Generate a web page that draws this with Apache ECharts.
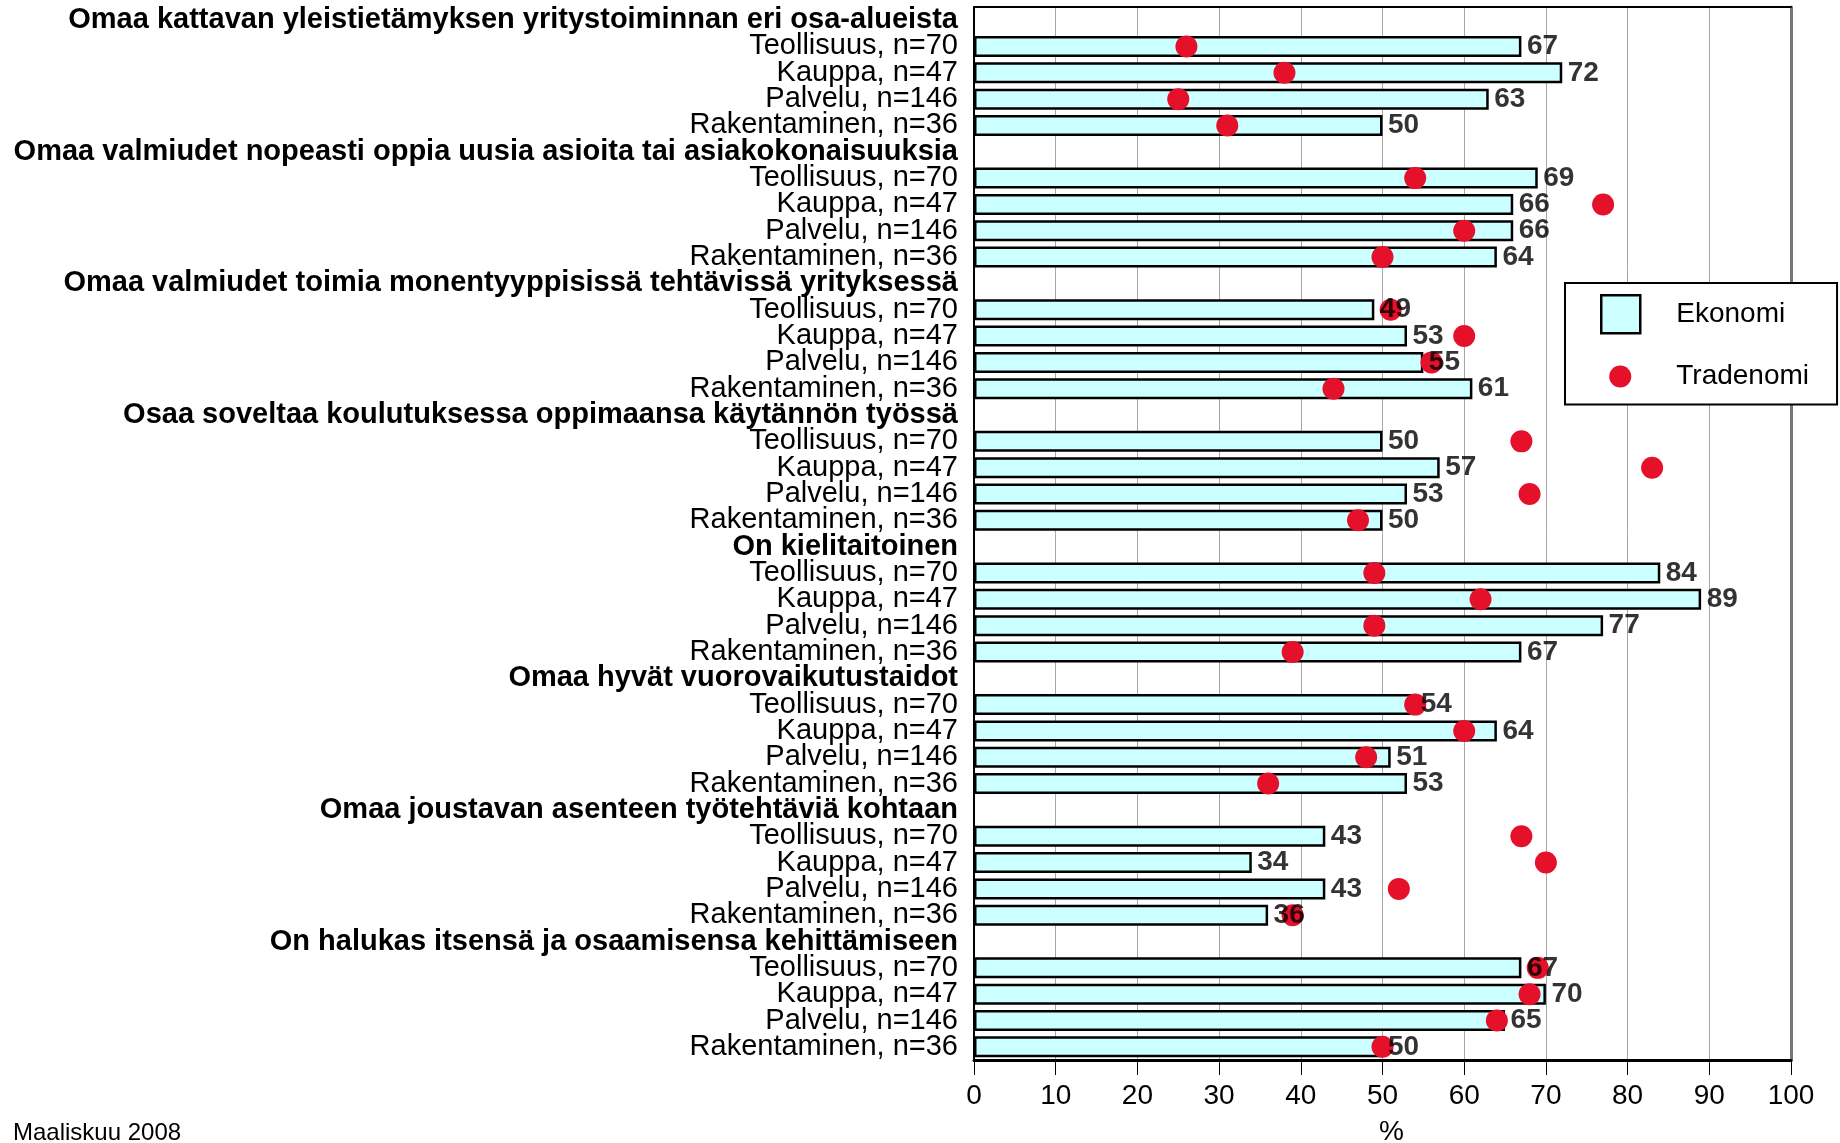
<!DOCTYPE html>
<html>
<head>
<meta charset="utf-8">
<script src="https://cdn.jsdelivr.net/npm/echarts@6/dist/echarts.min.js"></script>
<style>
html,body{margin:0;padding:0;background:#fff;}
#chart{width:1840px;height:1143px;}
</style>
</head>
<body>
<div id="chart"></div>
<script>
const groupTitles = [
  'Omaa kattavan yleistietämyksen yritystoiminnan eri osa-alueista',
  'Omaa valmiudet nopeasti oppia uusia asioita tai asiakokonaisuuksia',
  'Omaa valmiudet toimia monentyyppisissä tehtävissä yrityksessä',
  'Osaa soveltaa koulutuksessa oppimaansa käytännön työssä',
  'On kielitaitoinen',
  'Omaa hyvät vuorovaikutustaidot',
  'Omaa joustavan asenteen työtehtäviä kohtaan',
  'On halukas itsensä ja osaamisensa kehittämiseen'
];
const sectors = ['Teollisuus, n=70', 'Kauppa, n=47', 'Palvelu, n=146', 'Rakentaminen, n=36'];
const ekonomi = [
  [67, 72, 63, 50],
  [69, 66, 66, 64],
  [49, 53, 55, 61],
  [50, 57, 53, 50],
  [84, 89, 77, 67],
  [54, 64, 51, 53],
  [43, 34, 43, 36],
  [67, 70, 65, 50]
];
const tradenomi = [
  [26, 38, 25, 31],
  [54, 77, 60, 50],
  [51, 60, 56, 44],
  [67, 83, 68, 47],
  [49, 62, 49, 39],
  [54, 60, 48, 36],
  [67, 70, 52, 39],
  [69, 68, 64, 50]
];
const xTicks = { min: 0, max: 100, step: 10 };
const footnote = 'Maaliskuu 2008';
const axisName = '%';

const FONT = '"Liberation Sans", Arial, sans-serif';
const RED = '#E5102A';

const rows = [];
groupTitles.forEach((t, g) => {
  rows.push({ label: t, header: true });
  sectors.forEach((s, k) => rows.push({ label: s, header: false, e: ekonomi[g][k], t: tradenomi[g][k] }));
});
const keys = rows.map((r, i) => 'r' + i);

const barData = rows.map(r => r.header ? '-' : r.e);
const dotData = [];
const lblData = [];
rows.forEach((r, i) => {
  if (!r.header) {
    dotData.push([r.t, i]);
    lblData.push([r.e, i]);
  }
});

const chart = echarts.init(document.getElementById('chart'), null, { renderer: 'canvas' });
chart.setOption({
  animation: false,
  backgroundColor: '#fff',
  textStyle: { fontFamily: FONT },
  title: {
    text: footnote, left: 13, top: 1121, padding: 0,
    textStyle: { fontSize: 24, fontWeight: 'normal', color: '#000', fontFamily: FONT }
  },
  grid: {
    left: 974, right: 49, top: 7, bottom: 83,
    containLabel: false, outerBoundsMode: 'none'
  },
  legend: {
    orient: 'vertical',
    left: 1565, top: 283,
    padding: [11, 28, 9, 35],
    itemGap: 23,
    itemWidth: 39, itemHeight: 38,
    backgroundColor: '#fff',
    borderColor: '#000', borderWidth: 2, borderRadius: 0,
    textStyle: { fontSize: 28, color: '#000', fontFamily: FONT, padding: [0, 0, 0, 31] },
    selectedMode: false,
    data: [
      { name: 'Ekonomi', icon: 'rect', itemStyle: { color: '#CCFFFF', borderColor: '#000', borderWidth: 2.5 } },
      { name: 'Tradenomi', icon: 'path://M0,0 M39,38 M8,19 A11,11 0 1,1 30,19 A11,11 0 1,1 8,19 Z', itemStyle: { color: RED, borderWidth: 0 } }
    ]
  },
  xAxis: [
    {
      type: 'value', position: 'bottom',
      min: xTicks.min, max: xTicks.max, interval: xTicks.step,
      axisLine: { show: true, onZero: false, lineStyle: { color: '#000', width: 3 } },
      axisTick: { show: true, length: 15, lineStyle: { color: '#000', width: 1 } },
      axisLabel: { fontSize: 28, color: '#000', margin: 22, fontFamily: FONT },
      splitLine: { show: true, lineStyle: { color: '#A6A6A6', width: 1 } },
      name: axisName, nameLocation: 'middle', nameGap: 58,
      nameTextStyle: { fontSize: 28, color: '#000', fontFamily: FONT, padding: [0, 0, 0, 18] }
    },
    {
      type: 'value', position: 'top',
      min: xTicks.min, max: xTicks.max, interval: xTicks.step,
      axisLine: { show: true, onZero: false, lineStyle: { color: '#000', width: 2 } },
      axisTick: { show: false }, axisLabel: { show: false }, splitLine: { show: false }
    }
  ],
  yAxis: [
    {
      type: 'category', inverse: true, data: keys, position: 'left',
      axisLine: { show: true, onZero: false, lineStyle: { color: '#000', width: 2 } },
      axisTick: { show: false },
      splitLine: { show: false },
      axisLabel: {
        interval: 0, margin: 16, color: '#000', fontSize: 29, fontFamily: FONT,
        formatter: (v, i) => {
          const r = rows[i];
          return r.header ? '{h|' + r.label + '}' : '{n|' + r.label + '}';
        },
        rich: {
          h: { fontSize: 29, fontWeight: 'bold', color: '#000', fontFamily: FONT },
          n: { fontSize: 29, fontWeight: 'normal', color: '#000', fontFamily: FONT }
        }
      }
    },
    {
      type: 'category', inverse: true, data: keys, position: 'right',
      axisLine: { show: true, onZero: false, lineStyle: { color: '#777', width: 3 } },
      axisTick: { show: false }, axisLabel: { show: false }, splitLine: { show: false }
    }
  ],
  series: [
    {
      name: 'Ekonomi', type: 'bar', xAxisIndex: 0, yAxisIndex: 0,
      data: barData, barWidth: 21, z: 2,
      itemStyle: { color: '#CCFFFF', borderColor: '#000', borderWidth: 2.5 },
      label: { show: false }
    },
    {
      name: 'Tradenomi', type: 'scatter', xAxisIndex: 0, yAxisIndex: 0,
      data: dotData, symbol: 'circle', symbolSize: 22, z: 3,
      itemStyle: { color: RED, opacity: 1 }
    },
    {
      name: 'lbl', type: 'scatter', xAxisIndex: 0, yAxisIndex: 0,
      data: lblData, symbol: 'circle', symbolSize: 1, z: 4, silent: true,
      itemStyle: { color: 'rgba(0,0,0,0)' },
      label: {
        show: true, position: 'right', distance: 5,
        formatter: p => String(p.value[0]),
        fontSize: 28, fontWeight: 'bold', color: '#000', fontFamily: FONT
      }
    }
  ]
});
</script>
</body>
</html>
